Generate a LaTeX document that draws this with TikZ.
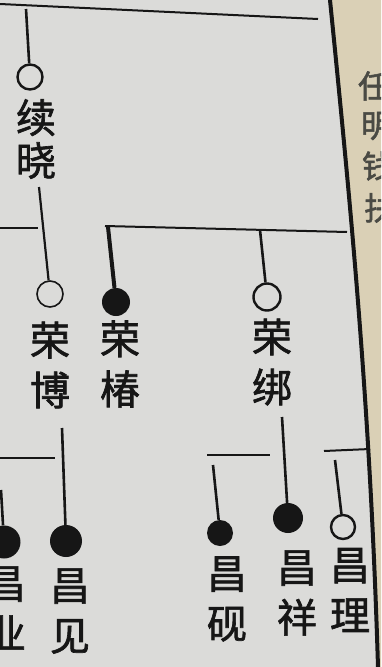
\documentclass[tikz,border=0pt]{standalone}
\usepackage{fontspec}
\newfontfamily\cjk[FakeBold=1.6]{Noto Sans CJK SC}
\definecolor{paper}{HTML}{DBDBD9}
\definecolor{beige}{HTML}{DAD0B6}
\definecolor{ink}{HTML}{161616}
\definecolor{faint}{HTML}{4A4A44}
\tikzset{
  inkline/.style={draw=ink, line width=2.6pt},
  rule/.style={draw=ink, line width=2pt},
  opendot/.style={circle, draw=ink, line width=2.4pt, inner sep=0pt, fill=none},
  fulldot/.style={circle, fill=ink, draw=none, inner sep=0pt},
  namebox/.style={text=ink, font=\cjk\fontsize{40}{50}\selectfont, align=center, inner sep=0pt},
  sidebox/.style={text=faint, font=\cjk\fontsize{32}{40}\selectfont, inner sep=0pt}
}
\begin{document}
\begin{tikzpicture}[x=1pt,y=-1pt]
\useasboundingbox (0,0) rectangle (381,667);
\clip (0,0) rectangle (381,667);
\fill[paper] (0,0) rectangle (381,667);
% right margin of the page
\fill[beige] (330,0) .. controls (350,200) and (370,400) .. (378,667) -- (381,667) -- (381,0) -- cycle;
\draw[draw=ink, line width=4pt] (330,0) .. controls (350,200) and (370,400) .. (378,667);
\node[sidebox] (s1) at (374,86) {任};
\node[sidebox] (s2) at (377,126) {明};
\node[sidebox] (s3) at (378,166) {钱};
\node[sidebox] (s4) at (380,208) {扶};

% generation lines
\coordinate (t1) at (0,4);
\coordinate (t2) at (318,19);
\draw[rule] (t1) -- (t2);

% 续晓
\coordinate (xtop) at (26,9);
\node[opendot, minimum size=25pt] (c1) at (30,77) {};
\draw[inkline] (xtop) -- (c1);
\node[namebox, font=\cjk\fontsize{40}{43}\selectfont] (n1) at (36,139) {续\\晓};

% 荣 generation
\coordinate (l1a) at (0,228);
\coordinate (l1b) at (38,228);
\draw[rule] (l1a) -- (l1b);
\coordinate (h1a) at (105,226);
\coordinate (h1b) at (347,232);
\draw[rule] (h1a) -- (h1b);

\coordinate (xbot) at (39,187);
\node[opendot, line width=1.6pt, minimum size=26pt] (c2) at (50,294) {};
\draw[inkline, line width=2.2pt] (xbot) -- (c2);
\node[namebox] (n2) at (50,365) {荣\\博};

\coordinate (ctop) at (108,227);
\node[fulldot, minimum size=28pt] (c3) at (116,302) {};
\draw[inkline, line width=4pt] (ctop) -- (c3);
\node[namebox] (n3) at (120,364) {荣\\椿};

\coordinate (btop) at (260,230);
\node[opendot, minimum size=27pt] (c4) at (267,297) {};
\draw[inkline] (btop) -- (c4);
\node[namebox] (n4) at (272,362) {荣\\绑};

% 昌 generation
\coordinate (l2a) at (0,458);
\coordinate (l2b) at (55,458);
\draw[rule] (l2a) -- (l2b);
\coordinate (ytop) at (1,490);
\node[fulldot, minimum size=33pt] (c5) at (4,542) {};
\draw[inkline] (ytop) -- (c5);
\node[namebox] (n5) at (6,608) {昌\\业};

\coordinate (jtop) at (62,428);
\node[fulldot, minimum size=32pt] (c6) at (66,541) {};
\draw[inkline] (jtop) -- (c6);
\node[namebox] (n6) at (70,611) {昌\\见};

\coordinate (h2a) at (207,455);
\coordinate (h2b) at (270,455);
\draw[rule, line width=2.4pt] (h2a) -- (h2b);
\coordinate (ytop2) at (213,465);
\node[fulldot, minimum size=26pt] (c7) at (220,533) {};
\draw[inkline] (ytop2) -- (c7);
\node[namebox] (n7) at (227,599) {昌\\砚};

\coordinate (xtop2) at (282,417);
\node[fulldot, minimum size=30pt] (c8) at (288,518) {};
\draw[inkline] (xtop2) -- (c8);
\node[namebox] (n8) at (297,593) {昌\\祥};

\coordinate (h3a) at (324,451);
\coordinate (h3b) at (370,449);
\draw[rule] (h3a) -- (h3b);
\coordinate (ltop) at (335,460);
\node[opendot, minimum size=24pt] (c9) at (343,527) {};
\draw[inkline] (ltop) -- (c9);
\node[namebox] (n9) at (350,590) {昌\\理};
\end{tikzpicture}
\end{document}
